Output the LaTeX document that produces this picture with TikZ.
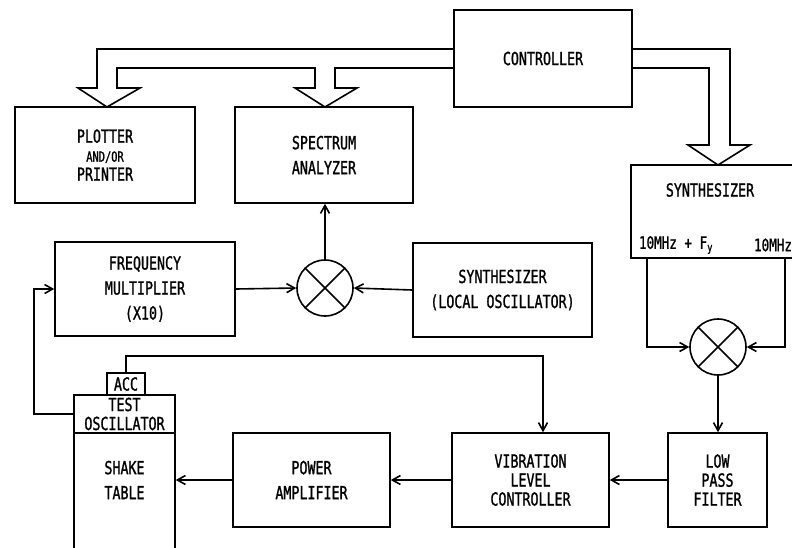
\documentclass[tikz,border=0pt]{standalone}
\usepackage{fontspec}
\setmainfont{DejaVu Sans Mono}[FakeStretch=0.74, FakeBold=1.2]
\usetikzlibrary{arrows.meta}

\begin{document}
\begin{tikzpicture}
[
x=1pt, y=-1pt,
line width=1.6pt,
>={Straight Barb[length=8pt,width=9pt]},
every node/.style={inner sep=0pt, align=center, font=\fontsize{18}{22}\selectfont},
box/.style={draw, rectangle},
mixer/.style={draw, circle, minimum size=56pt}
]
\useasboundingbox (0,0) rectangle (792,547);

% top row
\node[box, minimum width=178pt, minimum height=97pt] (ctrl) at (543,58.5) {CONTROLLER};
\node[box, minimum width=180pt, minimum height=96pt] (plot) at (105,155) {PLOTTER\\[-3pt] {\fontsize{14}{14}\selectfont AND/OR}\\[-3pt] PRINTER};
\node[box, minimum width=178pt, minimum height=96pt] (spec) at (324,155) {SPECTRUM\\[3pt] ANALYZER};
\node[box, minimum width=169pt, minimum height=93pt] (synth) at (715.5,211.5) {};
\node (synthtxt) at (710,190) {SYNTHESIZER};
\node[font=\fontsize{17}{16}\selectfont] (fout1) at (676,245) {10MHz + F\textsubscript{y}};
\node[font=\fontsize{17}{16}\selectfont] (fout2) at (773,245) {10MHz};

% middle row
\node[box, minimum width=180pt, minimum height=94pt] (fmul) at (145,289) {FREQUENCY\\[3pt] MULTIPLIER\\[3pt] (X10)};
\node[mixer] (mix1) at (325,288) {};
\node[box, minimum width=179pt, minimum height=94pt] (lo) at (502.5,290) {SYNTHESIZER\\[3pt] (LOCAL OSCILLATOR)};
\node[mixer] (mix2) at (718,347) {};

% bottom row
\node[box, minimum width=38pt, minimum height=22pt] (acc) at (126,384) {ACC};
\node[box, minimum width=101pt, minimum height=38pt] (osc) at (124.5,414) {TEST\\[-3pt] OSCILLATOR};
\node[box, minimum width=101pt, minimum height=127pt] (shake) at (124.5,496.5) {};
\node (shaketxt) at (124.5,480) {SHAKE\\[3pt] TABLE};
\node[box, minimum width=157pt, minimum height=94pt] (pa) at (311.5,480) {POWER\\[3pt] AMPLIFIER};
\node[box, minimum width=157pt, minimum height=94pt] (vlc) at (530.5,480) {VIBRATION\\[-3pt] LEVEL\\[-3pt] CONTROLLER};
\node[box, minimum width=99pt, minimum height=94pt] (lpf) at (717.5,480) {LOW\\[-3pt] PASS\\[-3pt] FILTER};

% mixer crosses
\draw (mix1.north east) -- (mix1.south west) (mix1.north west) -- (mix1.south east);
\draw (mix2.north east) -- (mix2.south west) (mix2.north west) -- (mix2.south east);

% controller buses
\draw (ctrl.west |- 0,49) -- (97,49) -- (97,88) -- (78,88) -- (107,107) -- (140,88) -- (117,88)
 -- (117,68) -- (315,68) -- (315,88) -- (295,88) -- (325,107) -- (357,88) -- (335,88)
 -- (335,68) -- (ctrl.west |- 0,68);
\draw (ctrl.east |- 0,49) -- (730,49) -- (730,145) -- (750,145) -- (718,165) -- (688,145)
 -- (709,145) -- (709,68) -- (ctrl.east |- 0,68);

% signal paths
\draw[->] (mix1.north) -- (mix1.north |- spec.south);
\draw[->] (fmul.east) -- (mix1.west);
\draw[->] (lo.west) -- (mix1.east);
\draw[->] (osc.west) -- ++(-39,0) |- (fmul.west);
\draw[->] (acc.north) |- (543,356) -- (vlc.north -| 543,0);
\draw[->] (647,0 |- synth.south) |- (mix2.west);
\draw[->] (785,0 |- synth.south) |- (mix2.east);
\draw[->] (mix2.south) -- (mix2.south |- lpf.north);
\draw[->] (lpf.west) -- (vlc.east);
\draw[->] (vlc.west) -- (pa.east);
\draw[->] (pa.west) -- (pa.west -| shake.east);
\end{tikzpicture}
\end{document}
